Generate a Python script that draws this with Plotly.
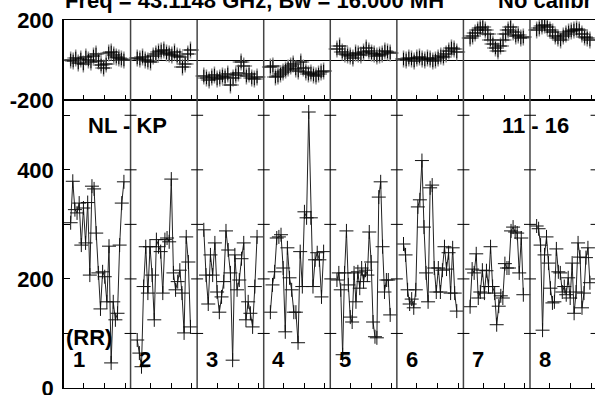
import plotly.graph_objects as go

# ---------------- data ----------------
panels = ["1", "2", "3", "4", "5", "6", "7", "8"]

phase_p1 = [0, -5, 10, -15, 5, -20, 15, 0, -10, 20, 30, -5, -25, -40, -20, 35, 40, 25, 15, 10, 5, 0]
phase_p2 = [10, 5, 15, 0, -5, -10, 20, 30, 40, 45, 50, 35, 30, 25, 40, 20, 15, -35, -20, 30, 50]
phase_p3 = [-80, -90, -100, -85, -75, -95, -90, -80, -85, -70, -125, -90, -75, -65, -10, -30, -80, -70, -90, -95, -85]
phase_p4 = [-35, -30, -85, -80, -70, -60, -50, -40, -30, -20, -45, -55, -10, -40, -60, -70, -65, -75, -80, -70, -60, -55]
phase_p5 = [55, 70, 40, 30, 25, 20, 10, 35, 30, 25, 40, 60, 45, 35, 30, 20, 25, 30, 45, 40, 35]
phase_p6 = [5, 0, 10, 5, -5, 10, 15, 5, 0, 10, 5, -5, 0, 10, 20, 15, 30, 45, 60, 55, 40]
phase_p7 = [110, 120, 135, 150, 160, 165, 150, 130, 100, 80, 60, 45, 70, 100, 130, 150, 165, 140, 120, 125, 110, 115]
phase_p8 = [150, 160, 170, 175, 165, 150, 140, 120, 110, 100, 120, 130, 140, 145, 150, 155, 150, 130, 115, 110, 100]

amp_p1 = [303, 379, 327, 321, 339, 262, 330, 266, 340, 207, 370, 365, 284, 211, 145, 213, 204, 158, 260, 46, 158, 125, 137, 262, 339, 378]
amp_p2 = [88, 64, 39, 186, 259, 174, 259, 207, 125, 272, 259, 250, 174, 272, 275, 268, 383, 211, 180, 195, 216, 174, 101, 277, 231, 112]
amp_p3 = [290, 207, 154, 244, 207, 266, 176, 139, 167, 195, 288, 253, 211, 51, 244, 180, 198, 237, 266, 125, 158, 137, 112, 186, 277]
amp_p4 = [139, 189, 213, 275, 277, 281, 220, 103, 257, 202, 180, 139, 139, 83, 250, 186, 323, 312, 506, 312, 186, 235, 248, 235, 167, 250]
amp_p5 = [198, 211, 180, 61, 211, 288, 189, 130, 121, 211, 158, 213, 183, 220, 195, 216, 207, 286, 231, 121, 94, 92, 350, 378, 259, 176, 198, 198, 134]
amp_p6 = [264, 244, 180, 154, 163, 147, 180, 332, 345, 417, 295, 211, 158, 367, 372, 220, 176, 220, 176, 216, 259, 218, 248, 174, 257, 174, 141]
amp_p7 = [149, 218, 211, 246, 165, 176, 216, 174, 215, 186, 259, 186, 174, 116, 150, 169, 165, 228, 220, 220, 288, 295, 286, 284, 211, 275, 171]
amp_p8 = [297, 292, 262, 106, 244, 277, 229, 183, 156, 158, 255, 213, 211, 176, 186, 171, 202, 165, 229, 137, 176, 266, 240, 147, 174, 239, 257, 193]

phases = [phase_p1, phase_p2, phase_p3, phase_p4, phase_p5, phase_p6, phase_p7, phase_p8]
amps = [amp_p1, amp_p2, amp_p3, amp_p4, amp_p5, amp_p6, amp_p7, amp_p8]

amp_ticks = [0, 100, 200, 300, 400, 500]
amp_ticktext = ["0", "", "200", "", "400", ""]
phase_ticks = [-200, 200]
phase_ticktext = ["-200", "200"]

title_left = "Freq = 43.1148 GHz, Bw = 16.000 MH"
title_right = "No calibr"
baseline_label = "NL - KP"
source_label = "11 - 16"
pol_label = "(RR)"

# ---------------- geometry ----------------
W, H = 595, 395
ML, MR, MT, MB = 64, 0, 20, 7
PW = W - ML - MR
PH = H - MT - MB
panel_px = 66.57
xmax = PW / panel_px
split = (388 - 100) / PH  # bottom panel fraction


def px2paper_x(px):
    return (px - ML) / PW


def px2paper_y(py):
    return (H - MB - py) / PH


def xs_for(k, n):
    return [k + 0.1 + 0.8 * i / (n - 1) for i in range(n)]


ax, ay, pxs, pys = [], [], [], []
for k in range(8):
    xa = xs_for(k, len(amps[k]))
    ax += xa + [None]
    ay += amps[k] + [None]
    xp = xs_for(k, len(phases[k]))
    pxs += xp
    pys += phases[k]

fig = go.Figure()
fig.add_trace(go.Scatter(x=ax, y=ay, mode="lines", line=dict(color="#222", width=1),
                         xaxis="x", yaxis="y", hoverinfo="skip", showlegend=False))
fig.add_trace(go.Scatter(x=ax, y=ay, mode="markers",
                         marker=dict(symbol="cross-thin", size=10, line=dict(color="#111", width=1)),
                         xaxis="x", yaxis="y", showlegend=False))
fig.add_trace(go.Scatter(x=pxs, y=pys, mode="markers",
                         marker=dict(symbol="cross-thin", size=12, line=dict(color="#8a8a8a", width=1.5)),
                         xaxis="x2", yaxis="y2", showlegend=False))
fig.add_trace(go.Scatter(x=pxs, y=pys, mode="markers",
                         marker=dict(symbol="cross-thin", size=9, line=dict(color="#000", width=1)),
                         xaxis="x2", yaxis="y2", showlegend=False))

xtickvals = []
for k in range(9):
    for f in (0.3, 0.615, 0.92):
        if k + f < xmax:
            xtickvals.append(k + f)

FONT = "Liberation Sans, Arial, sans-serif"
font_b = dict(family=FONT, size=22, color="black")

common_x = dict(range=[0, xmax], showgrid=False, zeroline=False, showline=True,
                linecolor="black", linewidth=1, mirror=True, ticks="inside",
                tickvals=xtickvals, ticklen=5, tickwidth=1, tickcolor="black",
                showticklabels=False, automargin=False)

fig.update_layout(
    width=W, height=H,
    margin=dict(l=ML, r=MR, t=MT, b=MB),
    paper_bgcolor="white", plot_bgcolor="white",
    xaxis=dict(anchor="y", **common_x),
    xaxis2=dict(anchor="y2", matches="x", **common_x),
    yaxis=dict(domain=[0, split], range=[0, 528], tickvals=amp_ticks, ticktext=amp_ticktext,
               ticks="inside", ticklen=6, tickwidth=1, tickcolor="black", automargin=False,
               showgrid=False, zeroline=False, showline=True, linecolor="black", linewidth=1.5,
               ticklabelstandoff=4, ticklabeloverflow="allow",
               tickfont=dict(family=FONT, size=22, color="black", weight="bold")),
    yaxis2=dict(domain=[split, 1], range=[-200, 200], tickvals=phase_ticks, ticktext=phase_ticktext,
                ticks="", showgrid=False, zeroline=True, zerolinecolor="black", zerolinewidth=1,
                showline=True, linecolor="black", linewidth=1.5, automargin=False,
                ticklabelstandoff=4, ticklabeloverflow="allow",
                tickfont=dict(family=FONT, size=22, color="black", weight="bold")),
)

shapes = []
for k in range(1, 9):
    if k < xmax:
        shapes.append(dict(type="line", xref="x", yref="paper", x0=k, x1=k, y0=0, y1=1,
                           line=dict(color="#444", width=1.5)))
    for v in amp_ticks[1:]:
        shapes.append(dict(type="line", xref="x", yref="y", x0=k - 0.09, x1=min(k + 0.09, xmax), y0=v, y1=v,
                           line=dict(color="black", width=1)))
fig.update_layout(shapes=shapes)

ann = []
ann.append(dict(text="<b>" + title_left + "</b>", x=px2paper_x(63), y=px2paper_y(0.5), xref="paper", yref="paper",
                xanchor="left", yanchor="middle", showarrow=False, font=font_b))
ann.append(dict(text="<b>" + title_right + "</b>", x=px2paper_x(496), y=px2paper_y(0.5), xref="paper", yref="paper",
                xanchor="left", yanchor="middle", showarrow=False, font=font_b))
ann.append(dict(text="<b>" + baseline_label + "</b>", x=px2paper_x(86), y=px2paper_y(125), xref="paper", yref="paper",
                xanchor="left", yanchor="middle", showarrow=False, font=font_b))
ann.append(dict(text="<b>" + source_label + "</b>", x=px2paper_x(500), y=px2paper_y(125), xref="paper", yref="paper",
                xanchor="left", yanchor="middle", showarrow=False, font=font_b))
ann.append(dict(text="<b>" + pol_label + "</b>", x=px2paper_x(64), y=px2paper_y(337), xref="paper", yref="paper",
                xanchor="left", yanchor="middle", showarrow=False, font=font_b))
for k, lab in enumerate(panels):
    ann.append(dict(text="<b>" + lab + "</b>", x=k + 0.1, y=px2paper_y(359), xref="x", yref="paper",
                    xanchor="left", yanchor="middle", showarrow=False, font=font_b))
fig.update_layout(annotations=ann)

fig.write_html("out.html", config={"displayModeBar": False},
               post_script="document.body.style.margin='0';document.body.style.overflow='hidden';")
